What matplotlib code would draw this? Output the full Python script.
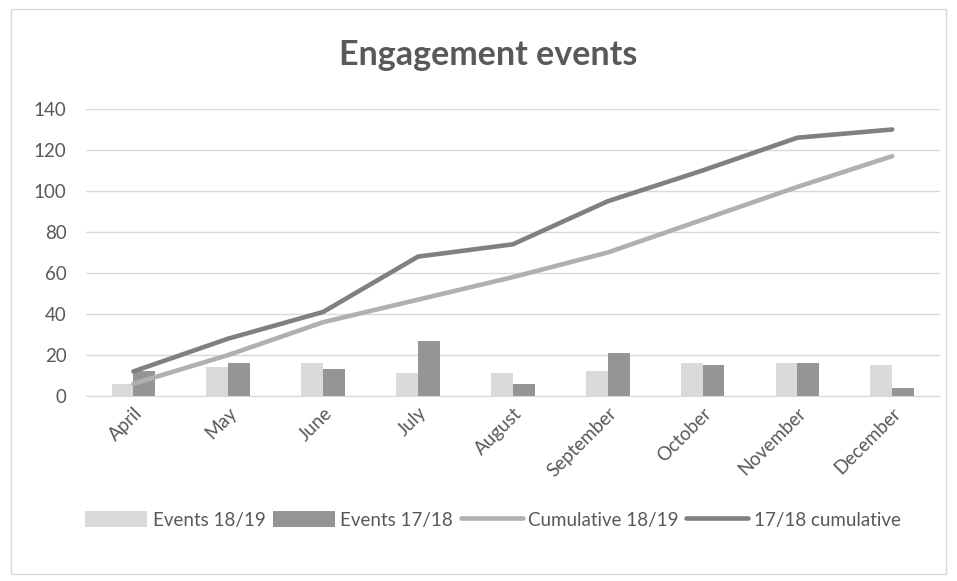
import numpy as np
import matplotlib.pyplot as plt
from matplotlib.patches import Rectangle

months = ['April', 'May', 'June', 'July', 'August', 'September',
          'October', 'November', 'December']
events_1819 = [6, 14, 16, 11, 11, 12, 16, 16, 15]
events_1718 = [12, 16, 13, 27, 6, 21, 15, 16, 4]
cum_1819 = [6, 20, 36, 47, 58, 70, 86, 102, 117]
cum_1718 = [12, 28, 41, 68, 74, 95, 110, 126, 130]

plt.rcParams['font.family'] = ['Lato', 'DejaVu Sans']
txt = '#595959'

fig = plt.figure(figsize=(9.57, 5.81), dpi=100)
fig.patches.append(Rectangle((0.011, 0.012), 0.978, 0.972, transform=fig.transFigure,
                             fill=False, edgecolor='#d9d9d9', linewidth=1))

ax = fig.add_axes([0.0899, 0.3184, 0.892, 0.494])
x = np.arange(len(months))
w = 0.23
b1 = ax.bar(x - w / 2, events_1819, w, color='#dadada', label='Events 18/19', zorder=2)
b2 = ax.bar(x + w / 2, events_1718, w, color='#959595', label='Events 17/18', zorder=2)
l1, = ax.plot(x, cum_1819, color='#b0b0b0', lw=3.3, solid_capstyle='round',
              label='Cumulative 18/19', zorder=3)
l2, = ax.plot(x, cum_1718, color='#808080', lw=3.3, solid_capstyle='round',
              label='17/18 cumulative', zorder=4)

ax.set_xlim(-0.5, len(months) - 0.5)
ax.set_ylim(0, 140)
ax.set_yticks(range(0, 141, 20))
ax.grid(axis='y', color='#d9d9d9', lw=1, zorder=0)
for s in ['top', 'right', 'left']:
    ax.spines[s].set_visible(False)
ax.spines['bottom'].set_color('#d9d9d9')
ax.tick_params(axis='both', length=0, labelsize=13.5, labelcolor=txt)
ax.tick_params(axis='y', pad=14)
ax.tick_params(axis='x', pad=6)
ax.set_xticks(x)
ax.set_xticklabels(months, rotation=45, ha='right', rotation_mode='anchor')

fig.text(0.51, 0.905, 'Engagement events', ha='center', va='center',
         fontsize=24.5, fontweight='bold', color=txt)

fig.legend([b1, b2, l1, l2], [h.get_label() for h in [b1, b2, l1, l2]],
           loc='center', bbox_to_anchor=(0.515, 0.105), ncol=4, frameon=False,
           fontsize=13.5, labelcolor=txt, handlelength=3.3, handletextpad=0.3,
           columnspacing=0.4, handleheight=0.9)

fig.savefig('out.png', dpi=100)
